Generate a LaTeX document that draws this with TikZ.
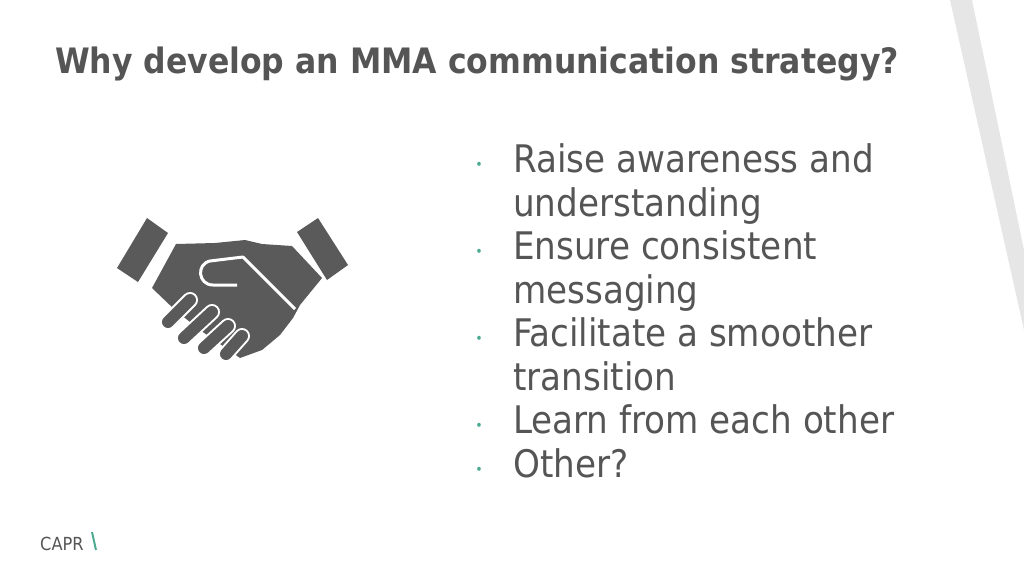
\documentclass[tikz,border=0pt]{standalone}
\usepackage{fontspec}
\setmainfont{DejaVu Sans}
\newfontfamily\condf{DejaVu Sans Condensed}
\definecolor{ink}{HTML}{555555}
\definecolor{hand}{HTML}{5A5A5A}
\definecolor{stripe}{HTML}{E6E6E6}
\definecolor{teal}{HTML}{4BAA90}
\tikzset{bul/.style={anchor=base west,font=\condf\fontsize{38}{40}\selectfont,text=ink,inner sep=0},
dot/.style={anchor=base,font=\condf\fontsize{14}{14}\selectfont,text=teal,inner sep=0},
finger/.style={line cap=round,line width=16pt,draw=white},
fing/.style={line cap=round,line width=12pt,draw=hand}}
\begin{document}
\begin{tikzpicture}[x=1pt,y=-1pt]
\useasboundingbox (0,0) rectangle (1024,576);
\fill[stripe] (950,0) -- (972,0) -- (1024,250) -- (1024,330) -- cycle;
\node[anchor=base west,inner sep=0,text=ink,font=\condf\bfseries\fontsize{35}{37}\selectfont] (title) at (55,73) {Why develop an MMA communication strategy?};
\foreach \t/\y/\d [count=\i] in {Raise awareness and/172/1,understanding/216/0,Ensure consistent/259/1,messaging/303/0,Facilitate a smoother/346/1,transition/390/0,Learn from each other/433/1,Other?/477/1}{
  \node[bul] (b\i) at (513,\y) {\t};
  \ifnum\d=1 \node[dot] (d\i) at (479,\y-3) {•};\fi
}
% handshake
\fill[hand] (117,268) -- (147,218) -- (168,233) -- (138,282) -- cycle;
\fill[hand] (297,232) -- (318,218) -- (348,265) -- (327,280) -- cycle;
\fill[hand] (152,288) -- (176,244) -- (215,243) -- (245,240) -- (262,244) -- (292,246) -- (322,278) -- (300,305) -- (293,318) -- (280,335) -- (262,350) -- (240,358) -- (200,330) -- (175,310) -- cycle;
\draw[white,line width=3pt,line join=round] (237,285) -- (213,285) .. controls (198,285) and (196,264) .. (210,261) -- (243,257) -- (295,309);
\foreach \a/\b/\c/\d [count=\k] in {168/322/190/300, 184/338/212/312, 204/348/228/326, 226/354/242/336}{
  \draw[finger] (\a,\b) -- (\c,\d);
  \draw[fing] (\a,\b) -- (\c,\d);
}
% logo
\node[anchor=base west,inner sep=0,text=ink,font=\condf\fontsize{18}{18}\selectfont] (capr) at (40,550) {CAPR};
\draw[teal,line width=2pt] (92,532) -- (96,550);
\end{tikzpicture}
\end{document}
